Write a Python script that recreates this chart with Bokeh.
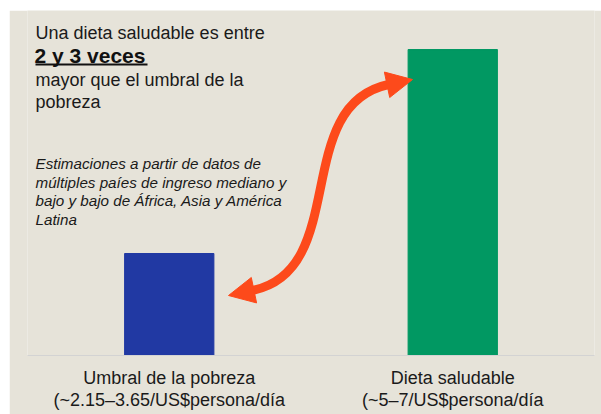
from bokeh.plotting import figure
from bokeh.models import FactorRange, Range1d, ColumnDataSource, Arrow, NormalHead
from bokeh.core.properties import value
from bokeh.embed import file_html
from bokeh.resources import INLINE

# ---- data ----
categories = ["Umbral de la pobreza\n(~2.15–3.65/US$persona/día",
              "Dieta saludable\n(~5–7/US$persona/día"]
values = [2.3, 6.9]
bar_colors = ["#2139a3", "#019862"]

title_line1 = "Una dieta saludable es entre"
title_bold = "2 y 3 veces"
title_lines_rest = ["mayor que el umbral de la", "pobreza"]
note_lines = ["Estimaciones a partir de datos de",
              "múltiples paíes de ingreso mediano y",
              "bajo y bajo de África, Asia y América",
              "Latina"]

BEIGE = "#e6e3d9"
ORANGE = "#fd4a1b"
FONT = "Liberation Sans"
YMAX = 7.78

p = figure(width=592, height=404, x_range=FactorRange(*categories, range_padding=0),
           y_range=Range1d(0, YMAX), output_backend="svg", toolbar_location=None,
           title=None, y_axis_location=None, margin=(10, 0, 0, 9),
           min_border_left=18, min_border_right=7, min_border_top=0, min_border_bottom=59)
p.background_fill_color = BEIGE
p.border_fill_color = BEIGE
p.outline_line_color = None
p.grid.visible = False

src = ColumnDataSource(dict(cat=categories, val=values, color=bar_colors))
p.vbar(x="cat", top="val", width=0.315, color="color", source=src)

ax = p.xaxis[0]
ax.axis_line_color = "#d3d3d3"
ax.major_tick_line_color = None
ax.minor_tick_line_color = None
ax.major_tick_out = 0
ax.major_tick_in = 0
ax.minor_tick_out = 0
ax.major_label_text_font = FONT
ax.major_label_text_font_size = "18px"
ax.major_label_text_line_height = 1.1
ax.major_label_text_color = "#1a1a1a"
ax.major_label_standoff = 12


# pixel helpers for annotation placement (page pixels -> data)
def X(px):
    return (px - 27) / 283.5


def Y(py):
    return (355 - py) / 345 * YMAX


def TY(py):
    # text baseline helper (compensates for glyph baseline placement)
    return Y(py - 4)


# title text
p.text(x=[X(35)], y=[TY(36)], text=[title_line1], text_font=value(FONT),
       text_font_size="18px", text_color="#1a1a1a", text_baseline="alphabetic")
p.text(x=[X(34)], y=[TY(59)], text=[title_bold], text_font=value(FONT),
       text_font_size="21px", text_font_style="bold", text_color="#111111",
       text_baseline="alphabetic")
p.segment(x0=[X(35)], y0=[Y(64)], x1=[X(147)], y1=[Y(64)], line_color="#111111", line_width=2)
p.text(x=[X(35)] * 2, y=[TY(83), TY(105)], text=title_lines_rest, text_font=value(FONT),
       text_font_size="18px", text_color="#1a1a1a", text_baseline="alphabetic")

# note text
p.text(x=[X(35)] * 4, y=[TY(167), TY(185.5), TY(204), TY(222.5)], text=note_lines,
       text_font=value(FONT), text_font_size="15.2px", text_font_style="italic",
       text_color="#1a1a1a", text_baseline="alphabetic")

# curved double arrow
p.bezier(x0=[X(252)], y0=[Y(290)], x1=[X(388)], y1=[Y(84)],
         cx0=[X(350)], cy0=[Y(270)], cx1=[X(290)], cy1=[Y(105)],
         line_color=ORANGE, line_width=9)
for (xs, ys, xe, ye) in [(252, 290, 228, 295), (388, 84, 412, 79)]:
    p.add_layout(Arrow(end=NormalHead(size=26, fill_color=ORANGE, line_color=ORANGE),
                       x_start=X(xs), y_start=Y(ys), x_end=X(xe), y_end=Y(ye),
                       line_alpha=0))

open("out.html", "w").write(file_html(p, INLINE))
